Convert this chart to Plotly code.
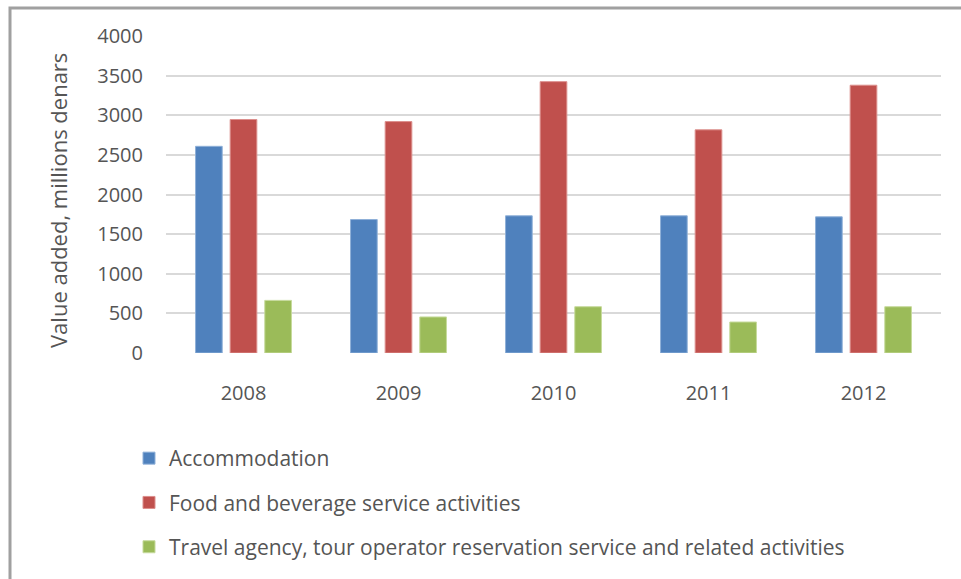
import plotly.graph_objects as go

# Value added by tourism-related activity, millions of denars
years = ["2008", "2009", "2010", "2011", "2012"]
accommodation = [2608, 1684, 1731, 1731, 1718]
food_beverage = [2946, 2920, 3424, 2816, 3379]
travel_agency = [664, 455, 584, 391, 584]

series_names = [
    "Accommodation",
    "Food and beverage service activities",
    "Travel agency, tour operator reservation service and related activities",
]
y_ticks = [0, 500, 1000, 1500, 2000, 2500, 3000, 3500, 4000]

W, H = 961, 579
L, R, T, B = 166, 20, 36, 226
pw, ph = W - L - R, H - T - B


def px_x(x):
    return (x - L) / pw


def px_y(y):
    return (H - B - y) / ph


FONT = "Open Sans"
TXT = "#555555"

fig = go.Figure()
for name, vals, col, edge in [
    (series_names[0], accommodation, "#4F81BD", "#8fb0d8"),
    (series_names[1], food_beverage, "#C0504D", "#dc8f8d"),
    (series_names[2], travel_agency, "#9BBB59", "#c6da9c"),
]:
    fig.add_trace(go.Bar(
        x=years, y=vals, name=name, legendgroup=name,
        marker=dict(color=col, line=dict(color=edge, width=1)),
    ))

fig.update_layout(
    width=W, height=H, autosize=False,
    margin=dict(l=L, r=R, t=T, b=B, autoexpand=False),
    paper_bgcolor="white", plot_bgcolor="white",
    barmode="group", bargap=0.33, bargroupgap=0.23,
    font=dict(family=FONT, color=TXT),
    showlegend=True,
    legend=dict(
        x=px_x(129), y=px_y(438), xanchor="left", yanchor="top",
        orientation="v", traceorder="grouped", tracegroupgap=14,
        font=dict(size=21, color=TXT, family=FONT),
        bgcolor="rgba(0,0,0,0)", itemwidth=30,
    ),
    xaxis=dict(
        showgrid=False, zeroline=False, showline=False, ticks="",
        tickfont=dict(size=20, color=TXT, family=FONT),
        ticklabelstandoff=26,
    ),
    yaxis=dict(
        range=[0, 4000], tickvals=y_ticks,
        showgrid=True, gridcolor="#d9d9d9", gridwidth=2,
        zeroline=False, showline=False, ticks="",
        tickfont=dict(size=20, color=TXT, family=FONT),
        ticklabelstandoff=22,
    ),
    annotations=[dict(
        text="Value added, millions denars",
        xref="paper", yref="paper", x=px_x(58), y=px_y(201),
        xanchor="center", yanchor="middle", textangle=-90, showarrow=False,
        font=dict(size=22, color=TXT, family=FONT),
    )],
    shapes=[dict(
        type="rect", xref="paper", yref="paper", layer="above",
        x0=px_x(10), x1=px_x(990), y0=px_y(8), y1=px_y(600),
        line=dict(color="#a0a0a0", width=3), fillcolor="rgba(0,0,0,0)",
    )],
)

fig.write_html("out.html")
